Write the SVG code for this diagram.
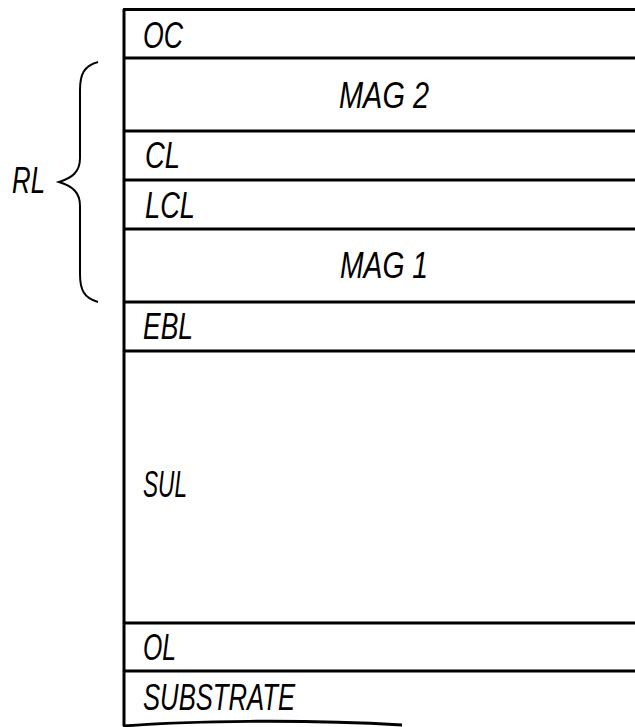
<svg xmlns="http://www.w3.org/2000/svg" width="635" height="727" viewBox="0 0 635 727">
<style>
.ln{stroke:#000;stroke-width:3;fill:none}
.br{stroke:#000;stroke-width:2;fill:none}
.t{font-family:"Liberation Sans",Arial,sans-serif;font-style:italic;font-size:37px;fill:#000}
</style>
<rect width="635" height="727" fill="#fff"/>
<g id="stack">
<line class="ln" x1="124" y1="9" x2="124" y2="726"/>
</g>
<g id="connectors">
<path class="br" d="M98,62 C84,66 80,74 80,90 L80,158 C80,172 72,178 59,182 C72,186 80,192 80,206 L80,274 C80,290 84,298 98,302"/>
</g>
<g id="OC"><line class="ln" x1="123" y1="9.5" x2="635" y2="9.5"/><text class="t" x="143" y="48" textLength="40" lengthAdjust="spacingAndGlyphs">OC</text></g>
<g id="MAG2"><line class="ln" x1="123" y1="58" x2="635" y2="58"/><text class="t" x="339" y="108" textLength="90" lengthAdjust="spacingAndGlyphs">MAG 2</text></g>
<g id="CL"><line class="ln" x1="123" y1="131" x2="635" y2="131"/><text class="t" x="145" y="168" textLength="35" lengthAdjust="spacingAndGlyphs">CL</text></g>
<g id="LCL"><line class="ln" x1="123" y1="180" x2="635" y2="180"/><text class="t" x="145" y="218" textLength="50" lengthAdjust="spacingAndGlyphs">LCL</text></g>
<g id="MAG1"><line class="ln" x1="123" y1="229" x2="635" y2="229"/><text class="t" x="340" y="278" textLength="88" lengthAdjust="spacingAndGlyphs">MAG 1</text></g>
<g id="EBL"><line class="ln" x1="123" y1="302" x2="635" y2="302"/><text class="t" x="143" y="339" textLength="50" lengthAdjust="spacingAndGlyphs">EBL</text></g>
<g id="SUL"><line class="ln" x1="123" y1="351" x2="635" y2="351"/><text class="t" x="143" y="497" textLength="44" lengthAdjust="spacingAndGlyphs">SUL</text></g>
<g id="OL"><line class="ln" x1="123" y1="623" x2="635" y2="623"/><text class="t" x="143" y="660" textLength="33" lengthAdjust="spacingAndGlyphs">OL</text></g>
<g id="SUBSTRATE"><line class="ln" x1="123" y1="671" x2="635" y2="671"/><text class="t" x="143" y="710" textLength="152" lengthAdjust="spacingAndGlyphs">SUBSTRATE</text>
<path class="ln" d="M123,726 C190,721 300,719 402,725"/></g>
<g id="RL"><text class="t" x="12" y="193" textLength="33" lengthAdjust="spacingAndGlyphs">RL</text></g>
</svg>
